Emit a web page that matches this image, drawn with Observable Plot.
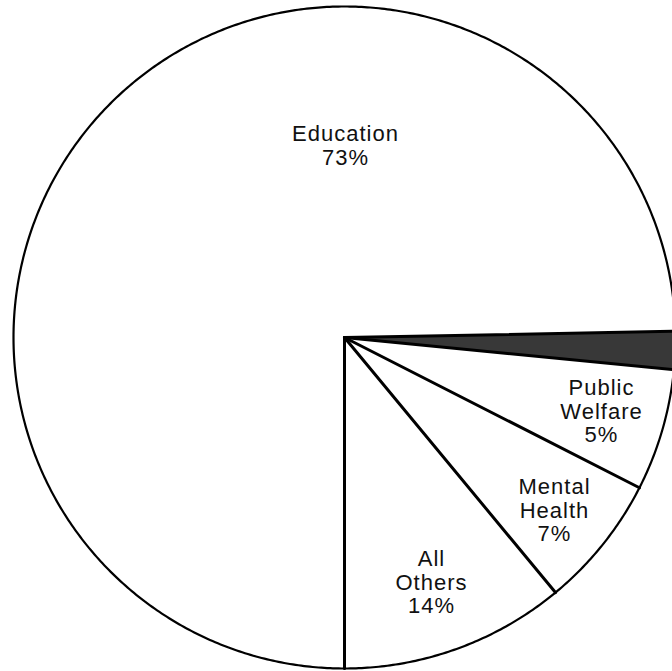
<!DOCTYPE html>
<html>
<head>
<meta charset="utf-8">
<script src="https://cdn.jsdelivr.net/npm/d3@7"></script>
<script src="https://cdn.jsdelivr.net/npm/@observablehq/plot@0.6"></script>
<style>
  html, body { margin: 0; padding: 0; background: #fff; overflow: hidden; }
  #chart svg { display: block; }
</style>
</head>
<body>
<div id="chart"></div>
<script>
// ---- Data ----
// Slice order runs clockwise, starting at 6 o'clock.
const categories = ["Education", "Unlabeled (shaded)", "Public Welfare", "Mental Health", "All Others"];
// slice sizes as drawn (percent of the circle)
const shares = [74.7, 1.85, 5.95, 6.5, 11.0];
// printed labels
const labelTexts = ["Education\n73%", "", "Public\nWelfare\n5%", "Mental\nHealth\n7%", "All\nOthers\n14%"];

// ---- Styles / layout (kept apart from the data) ----
const sliceFills = ["#ffffff", "#383838", "#ffffff", "#ffffff", "#ffffff"];
const W = 672, H = 671, CX = 344, CY = 337, R = 331;
// label centres as pixel offsets from the pie centre
const labelOffsets = [[1, -192], null, [257, 73.5], [210, 172.5], [87, 244.5]];

const data = categories.map((name, i) => ({name, share: shares[i], label: labelTexts[i], fill: sliceFills[i], off: labelOffsets[i]}));

const pie = d3.pie().sort(null).value(d => d.share).startAngle(Math.PI).endAngle(3 * Math.PI);
const arcs = pie(data);

// polygon outline of each slice (centre + arc), in unit-radius coordinates
const slicePts = arcs.flatMap(a => {
  const name = a.data.name, fill = a.data.fill;
  const pts = [{name, fill, x: 0, y: 0}];
  const n = Math.max(2, Math.ceil((a.endAngle - a.startAngle) / (Math.PI / 360)));
  for (let i = 0; i <= n; i++) {
    const t = a.startAngle + (a.endAngle - a.startAngle) * i / n;
    pts.push({name, fill, x: Math.sin(t), y: Math.cos(t)});
  }
  pts.push({name, fill, x: 0, y: 0});
  return pts;
});
const rimPts = slicePts.filter(p => !(p.x === 0 && p.y === 0));

const labels = data.filter(d => d.label);

const chart = Plot.plot({
  width: W,
  height: H,
  margin: 0,
  x: {type: "linear", domain: [-CX / R, (W - CX) / R], range: [0, W], axis: null},
  y: {type: "linear", domain: [-(H - CY) / R, CY / R], range: [H, 0], axis: null},
  color: {type: "identity"},
  style: {background: "#fff", fontFamily: "'Liberation Sans', Arial, Helvetica, sans-serif", letterSpacing: "1px"},
  marks: [
    Plot.line(slicePts, {x: "x", y: "y", z: "name", fill: "fill", stroke: "none"}),
    Plot.line(rimPts, {x: "x", y: "y", z: "name", stroke: "#000", strokeWidth: 2.2, fill: "none"}),
    Plot.link(arcs, {
      x1: () => 0, y1: () => 0,
      x2: a => Math.sin(a.startAngle), y2: a => Math.cos(a.startAngle),
      stroke: "#000", strokeWidth: 3, strokeLinecap: "round"
    }),
    Plot.text(labels, {
      x: d => d.off[0] / R,
      y: d => -d.off[1] / R,
      text: "label",
      textAnchor: "middle",
      lineAnchor: "middle",
      fontSize: 22,
      lineHeight: 23.5 / 22,
      fill: "#111"
    })
  ]
});
document.getElementById("chart").append(chart);
</script>
</body>
</html>
